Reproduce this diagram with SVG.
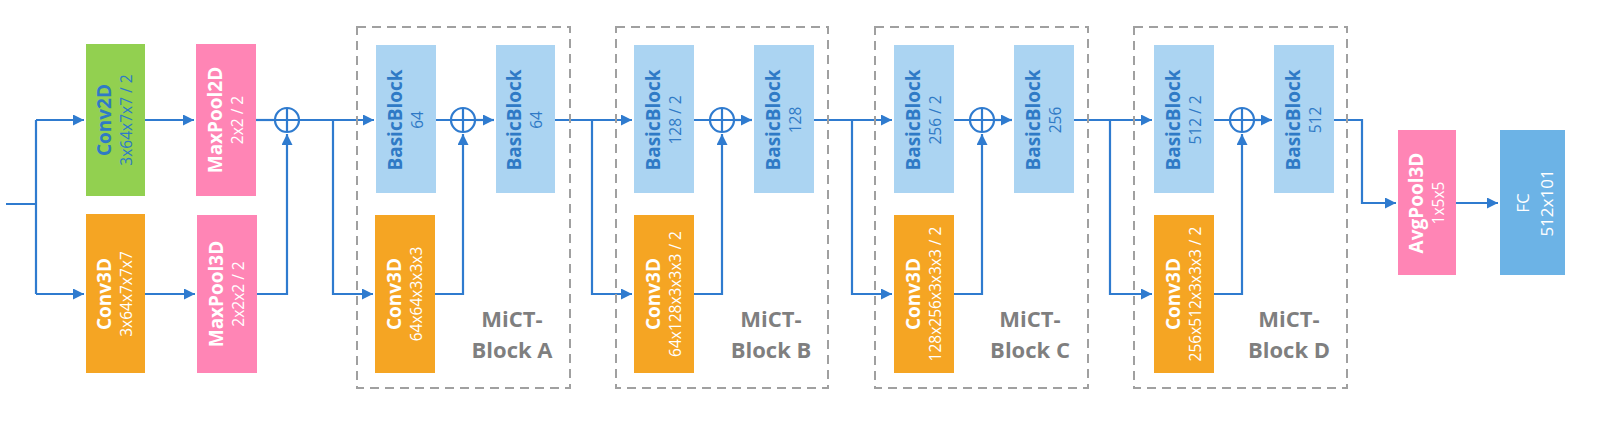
<svg xmlns="http://www.w3.org/2000/svg" width="1600" height="423" viewBox="0 0 1600 423">
<style>
.t{font-family:"Open Sans","Liberation Sans",sans-serif;font-weight:bold;font-size:19px}
.p{font-family:"Open Sans","Liberation Sans",sans-serif;font-size:15.5px}
.w{fill:#fff}.b{fill:#2f7ac6}
.ln{fill:none;stroke:#2f7bcf;stroke-width:2.2}
.dash{fill:none;stroke:#a0a0a0;stroke-width:2;stroke-dasharray:9,6}
.lab{font-family:"Open Sans","Liberation Sans",sans-serif;font-weight:bold;font-size:22px;fill:#7f7f7f;text-anchor:middle}
.gr{fill:#92d050}.pk{fill:#ff85b5}.or{fill:#f5a523}.lb{fill:#abd4f2}.fc{fill:#6cb3e6}
</style>
<defs>
<marker id="ar" viewBox="0 0 10 10" refX="10" refY="5" markerWidth="5" markerHeight="5" orient="auto"><path d="M0,0L10,5L0,10z" fill="#2f7bcf"/></marker>
</defs>
<g id="connectors">
<path class="ln" d="M6,204H36M36,120V294"/>
<path class="ln" d="M36,120H84" marker-end="url(#ar)"/>
<path class="ln" d="M36,294H84" marker-end="url(#ar)"/>
<path class="ln" d="M145,120H194" marker-end="url(#ar)"/>
<path class="ln" d="M145,294H195" marker-end="url(#ar)"/>
<path class="ln" d="M256,120H275"/>
<path class="ln" d="M257,294H287V134" marker-end="url(#ar)"/>
<circle class="ln" cx="287" cy="120" r="12"/><path class="ln" d="M275,120H299M287,108V132"/>
<path class="ln" d="M299,120H374" marker-end="url(#ar)"/><path class="ln" d="M333,120V294H373" marker-end="url(#ar)"/>
<path class="ln" d="M436,120H451M435,294H463V134" marker-end="url(#ar)"/><circle class="ln" cx="463" cy="120" r="12"/><path class="ln" d="M451,120H475M463,108V132"/><path class="ln" d="M475,120H494" marker-end="url(#ar)"/>
<path class="ln" d="M555,120H632" marker-end="url(#ar)"/><path class="ln" d="M592,120V294H632" marker-end="url(#ar)"/>
<path class="ln" d="M694,120H710M694,294H722V134" marker-end="url(#ar)"/><circle class="ln" cx="722" cy="120" r="12"/><path class="ln" d="M710,120H734M722,108V132"/><path class="ln" d="M734,120H752" marker-end="url(#ar)"/>
<path class="ln" d="M814,120H892" marker-end="url(#ar)"/><path class="ln" d="M852,120V294H892" marker-end="url(#ar)"/>
<path class="ln" d="M954,120H970M954,294H982V134" marker-end="url(#ar)"/><circle class="ln" cx="982" cy="120" r="12"/><path class="ln" d="M970,120H994M982,108V132"/><path class="ln" d="M994,120H1012" marker-end="url(#ar)"/>
<path class="ln" d="M1074,120H1152" marker-end="url(#ar)"/><path class="ln" d="M1110,120V294H1152" marker-end="url(#ar)"/>
<path class="ln" d="M1214,120H1230M1214,294H1242V134" marker-end="url(#ar)"/><circle class="ln" cx="1242" cy="120" r="12"/><path class="ln" d="M1230,120H1254M1242,108V132"/><path class="ln" d="M1254,120H1272" marker-end="url(#ar)"/>
<path class="ln" d="M1334,120H1362V203H1396" marker-end="url(#ar)"/>
<path class="ln" d="M1456,203H1498" marker-end="url(#ar)"/>
</g>
<g id="groups">
<rect class="dash" x="357" y="27" width="213" height="361"/>
<rect class="dash" x="616" y="27" width="212" height="361"/>
<rect class="dash" x="875" y="27" width="213" height="361"/>
<rect class="dash" x="1134" y="27" width="213" height="361"/>
<text class="lab" x="512" y="327">MiCT-</text><text class="lab" x="512" y="358">Block A</text>
<text class="lab" x="771" y="327">MiCT-</text><text class="lab" x="771" y="358">Block B</text>
<text class="lab" x="1030" y="327">MiCT-</text><text class="lab" x="1030" y="358">Block C</text>
<text class="lab" x="1289" y="327">MiCT-</text><text class="lab" x="1289" y="358">Block D</text>
</g>
<g id="conv2d"><rect class="gr" x="86" y="44" width="59" height="152"/><g transform="translate(115,120) rotate(-90)" text-anchor="middle"><text class="t b" x="0" y="-4">Conv2D</text><text class="p b" x="0" y="17">3x64x7x7 / 2</text></g></g>
<g id="conv3d"><rect class="or" x="86" y="214" width="59" height="159"/><g transform="translate(115,294) rotate(-90)" text-anchor="middle"><text class="t w" x="0" y="-4">Conv3D</text><text class="p w" x="0" y="17">3x64x7x7x7</text></g></g>
<g id="maxpool2d"><rect class="pk" x="196" y="44" width="60" height="152"/><g transform="translate(226,120) rotate(-90)" text-anchor="middle"><text class="t w" x="0" y="-4">MaxPool2D</text><text class="p w" x="0" y="17">2x2 / 2</text></g></g>
<g id="maxpool3d"><rect class="pk" x="197" y="215" width="60" height="158"/><g transform="translate(227,294) rotate(-90)" text-anchor="middle"><text class="t w" x="0" y="-4">MaxPool3D</text><text class="p w" x="0" y="17">2x2x2 / 2</text></g></g>
<g id="bbA1"><rect class="lb" x="376" y="45" width="60" height="148"/><g transform="translate(406,120) rotate(-90)" text-anchor="middle"><text class="t b" x="0" y="-4">BasicBlock</text><text class="p b" x="0" y="17">64</text></g></g>
<g id="convA"><rect class="or" x="375" y="215" width="60" height="158"/><g transform="translate(405,294) rotate(-90)" text-anchor="middle"><text class="t w" x="0" y="-4">Conv3D</text><text class="p w" x="0" y="17">64x64x3x3x3</text></g></g>
<g id="bbA2"><rect class="lb" x="496" y="45" width="59" height="148"/><g transform="translate(525,120) rotate(-90)" text-anchor="middle"><text class="t b" x="0" y="-4">BasicBlock</text><text class="p b" x="0" y="17">64</text></g></g>
<g id="bbB1"><rect class="lb" x="634" y="45" width="60" height="148"/><g transform="translate(664,120) rotate(-90)" text-anchor="middle"><text class="t b" x="0" y="-4">BasicBlock</text><text class="p b" x="0" y="17">128 / 2</text></g></g>
<g id="convB"><rect class="or" x="634" y="215" width="60" height="158"/><g transform="translate(664,294) rotate(-90)" text-anchor="middle"><text class="t w" x="0" y="-4">Conv3D</text><text class="p w" x="0" y="17">64x128x3x3x3 / 2</text></g></g>
<g id="bbB2"><rect class="lb" x="754" y="45" width="60" height="148"/><g transform="translate(784,120) rotate(-90)" text-anchor="middle"><text class="t b" x="0" y="-4">BasicBlock</text><text class="p b" x="0" y="17">128</text></g></g>
<g id="bbC1"><rect class="lb" x="894" y="45" width="60" height="148"/><g transform="translate(924,120) rotate(-90)" text-anchor="middle"><text class="t b" x="0" y="-4">BasicBlock</text><text class="p b" x="0" y="17">256 / 2</text></g></g>
<g id="convC"><rect class="or" x="894" y="215" width="60" height="158"/><g transform="translate(924,294) rotate(-90)" text-anchor="middle"><text class="t w" x="0" y="-4">Conv3D</text><text class="p w" x="0" y="17">128x256x3x3x3 / 2</text></g></g>
<g id="bbC2"><rect class="lb" x="1014" y="45" width="60" height="148"/><g transform="translate(1044,120) rotate(-90)" text-anchor="middle"><text class="t b" x="0" y="-4">BasicBlock</text><text class="p b" x="0" y="17">256</text></g></g>
<g id="bbD1"><rect class="lb" x="1154" y="45" width="60" height="148"/><g transform="translate(1184,120) rotate(-90)" text-anchor="middle"><text class="t b" x="0" y="-4">BasicBlock</text><text class="p b" x="0" y="17">512 / 2</text></g></g>
<g id="convD"><rect class="or" x="1154" y="215" width="60" height="158"/><g transform="translate(1184,294) rotate(-90)" text-anchor="middle"><text class="t w" x="0" y="-4">Conv3D</text><text class="p w" x="0" y="17">256x512x3x3x3 / 2</text></g></g>
<g id="bbD2"><rect class="lb" x="1274" y="45" width="60" height="148"/><g transform="translate(1304,120) rotate(-90)" text-anchor="middle"><text class="t b" x="0" y="-4">BasicBlock</text><text class="p b" x="0" y="17">512</text></g></g>
<g id="avgpool"><rect class="pk" x="1398" y="130" width="58" height="145"/><g transform="translate(1427,203) rotate(-90)" text-anchor="middle"><text class="t w" x="0" y="-4">AvgPool3D</text><text class="p w" x="0" y="17">1x5x5</text></g></g>
<g id="fc"><rect class="fc" x="1500" y="130" width="65" height="145"/><g transform="translate(1532,203) rotate(-90)" text-anchor="middle"><text class="p w" x="0" y="-3" style="font-size:17px">FC</text><text class="p w" x="0" y="21" style="font-size:17px">512x101</text></g></g>
</svg>
